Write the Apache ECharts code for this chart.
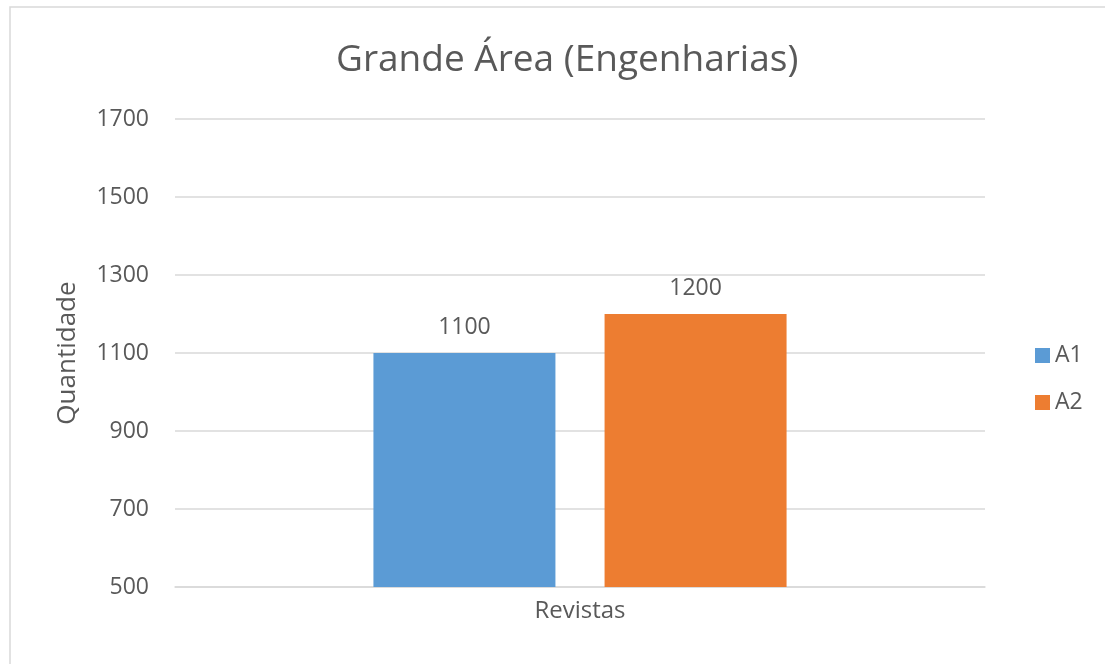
<!DOCTYPE html>
<head>
    <meta charset="utf-8">
    <script type="text/javascript" src="https://cdn.jsdelivr.net/npm/echarts@6/dist/echarts.min.js"></script>
</head>
<body style="height: 664px; margin: 0; background: #fff">
<div id="container" style="width: 1105px; height: 664px"></div>
<script type="text/javascript">
    var categories = ['Revistas'];
    var seriesNames = ['A1', 'A2'];
    var valuesA1 = [1100];
    var valuesA2 = [1200];
    var colors = ['#5B9BD5', '#ED7D31'];

    var myChart = echarts.init(document.getElementById('container'));
    var font = '"Open Sans", "Noto Sans", sans-serif';
    var txt = '#595959';

    var option = {
        animation: false,
        textStyle: { fontFamily: font },
        graphic: [{
            type: 'rect',
            shape: { x: 10, y: 7, width: 1200, height: 700 },
            style: { fill: 'none', stroke: '#d9d9d9', lineWidth: 1.5 }
        }],
        title: {
            text: 'Grande Área (Engenharias)',
            left: 331,
            top: 37,
            textStyle: { fontFamily: font, fontSize: 37, fontWeight: 'normal', color: txt }
        },
        legend: {
            orient: 'vertical',
            left: 1030,
            top: 339,
            itemWidth: 15,
            itemHeight: 15,
            itemGap: 24,
            icon: 'rect',
            data: seriesNames,
            textStyle: { fontFamily: font, fontSize: 23, color: txt }
        },
        grid: { left: 175, right: 120, top: 119, bottom: 77 },
        xAxis: {
            type: 'category',
            data: categories,
            axisLine: { lineStyle: { color: '#d9d9d9', width: 1.5 } },
            axisTick: { show: false },
            axisLabel: { fontSize: 24, color: txt, margin: 12 }
        },
        yAxis: {
            type: 'value',
            min: 500,
            max: 1700,
            interval: 200,
            name: 'Quantidade',
            nameLocation: 'middle',
            nameGap: 94,
            nameRotate: 90,
            nameTextStyle: { fontSize: 26, color: txt },
            axisLine: { show: false },
            axisTick: { show: false },
            axisLabel: { fontSize: 23, color: txt, margin: 26, formatter: function (v) { return String(v); } },
            splitLine: { lineStyle: { color: '#d9d9d9', width: 1.5 } }
        },
        series: [
            {
                name: seriesNames[0],
                type: 'bar',
                data: valuesA1,
                barWidth: 182,
                barGap: '27%',
                itemStyle: { color: colors[0] },
                label: { show: true, position: 'top', distance: 14, fontSize: 23, color: txt }
            },
            {
                name: seriesNames[1],
                type: 'bar',
                data: valuesA2,
                barWidth: 182,
                barGap: '27%',
                itemStyle: { color: colors[1] },
                label: { show: true, position: 'top', distance: 14, fontSize: 23, color: txt }
            }
        ]
    };
    myChart.setOption(option);
</script>
</body>
</html>
